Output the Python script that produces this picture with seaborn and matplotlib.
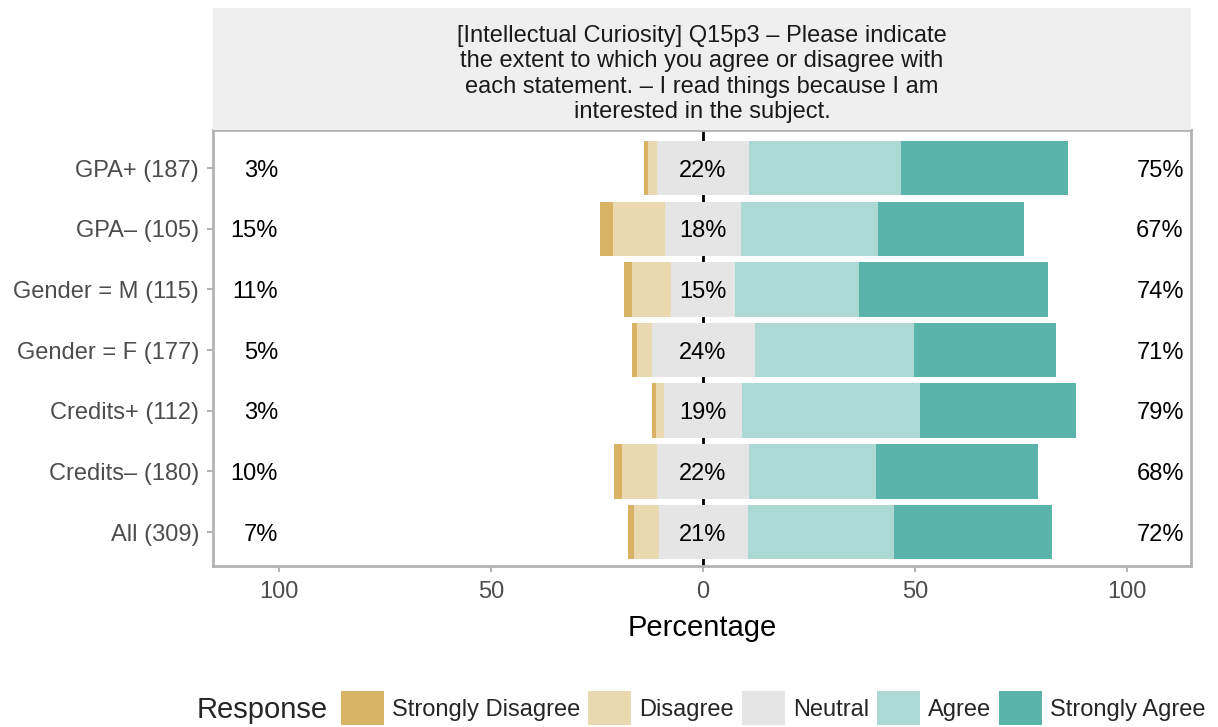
import numpy as np
import matplotlib
matplotlib.use("Agg")
import matplotlib.pyplot as plt
import seaborn as sns
from matplotlib.patches import Patch

# Data (percent of respondents)
groups = ["GPA+ (187)", "GPA\u2013 (105)", "Gender = M (115)", "Gender = F (177)",
          "Credits+ (112)", "Credits\u2013 (180)", "All (309)"]
responses = ["Strongly Disagree", "Disagree", "Neutral", "Agree", "Strongly Agree"]
strongly_disagree = [0.8, 3.1, 1.9, 1.2, 0.9, 1.9, 1.4]
disagree = [2.1, 12.2, 9.3, 3.4, 1.9, 8.3, 5.9]
neutral = [21.9, 18.1, 14.9, 24.3, 18.6, 21.6, 21.0]
agree = [35.7, 32.3, 29.4, 37.6, 41.9, 29.9, 34.6]
strongly_agree = [39.5, 34.3, 44.5, 33.5, 36.7, 38.3, 37.1]
colors = ["#D8B365", "#EAD9B0", "#E5E5E5", "#ADD9D5", "#5AB4AC"]

title = ("[Intellectual Curiosity] Q15p3 \u2013 Please indicate\n"
         "the extent to which you agree or disagree with\n"
         "each statement. \u2013 I read things because I am\n"
         "interested in the subject.")

sns.set_theme(style="white")
plt.rcParams['font.family'] = ['Liberation Sans', 'DejaVu Sans']

sd = np.array(strongly_disagree)
d = np.array(disagree)
n = np.array(neutral)
a = np.array(agree)
sa = np.array(strongly_agree)
y = np.arange(len(groups))

fig = plt.figure(figsize=(12.18, 7.27), dpi=100)
W, H = 1218, 727
ax = fig.add_axes([213 / W, 1 - 566 / H, 978 / W, 436 / H])
strip = fig.add_axes([213 / W, 1 - 130 / H, 978 / W, 122 / H])

# zero line behind the bars
ax.axvline(0, color="black", lw=2, zorder=0)

h = 0.9
lefts = [-(n / 2 + d + sd), -(n / 2 + d), -n / 2, n / 2, n / 2 + a]
widths = [sd, d, n, a, sa]
for left, width, col in zip(lefts, widths, colors):
    ax.barh(y, width, left=left, height=h, color=col, edgecolor="none", zorder=2)

lo = sd + d
hi = a + sa
fs = 17
for i in range(len(groups)):
    ax.text(-100.3, y[i], f"{round(lo[i])}%", ha="right", va="center_baseline", fontsize=fs, color="black")
    ax.text(0, y[i], f"{round(n[i])}%", ha="center", va="center_baseline", fontsize=fs, color="black", zorder=3)
    ax.text(107.8, y[i], f"{round(hi[i])}%", ha="center", va="center_baseline", fontsize=fs, color="black")

ax.set_xlim(-115.6, 115.1)
ax.set_ylim(6.56, -0.63)
ax.set_yticks(y)
ax.set_yticklabels(groups)
ticks = [-100, -50, 0, 50, 100]
ax.set_xticks(ticks)
ax.set_xticklabels([str(abs(t)) for t in ticks])
ax.tick_params(axis="both", labelsize=fs, labelcolor="#4D4D4D", color="#B3B3B3",
               length=4, width=1.5, bottom=True, left=True)
ax.tick_params(axis="x", pad=7)
ax.tick_params(axis="y", pad=6)
ax.set_xlabel("Percentage", fontsize=21, color="black", labelpad=8)
ax.set_ylabel("")
for s in ax.spines.values():
    s.set_color("#B3B3B3")
    s.set_linewidth(2)

strip.set_facecolor("#EFEFEF")
strip.set_xticks([])
strip.set_yticks([])
for s in strip.spines.values():
    s.set_visible(False)
strip.text(0.5, 0.46, title, ha="center", va="center", fontsize=fs,
           color="#1A1A1A", linespacing=1.2, transform=strip.transAxes)

handles = [Patch(facecolor=c, edgecolor="none") for c in colors]
fig.text(197 / W, 1 - 710 / H, "Response", ha="left", va="center", fontsize=21)
fig.legend(handles, responses, loc="center left", bbox_to_anchor=(341 / W, 1 - 708 / H),
           ncol=5, frameon=False, fontsize=17, borderpad=0, borderaxespad=0,
           handlelength=1.82, handleheight=1.9, handletextpad=0.34, columnspacing=0.34)

fig.savefig("out.png", dpi=100)
